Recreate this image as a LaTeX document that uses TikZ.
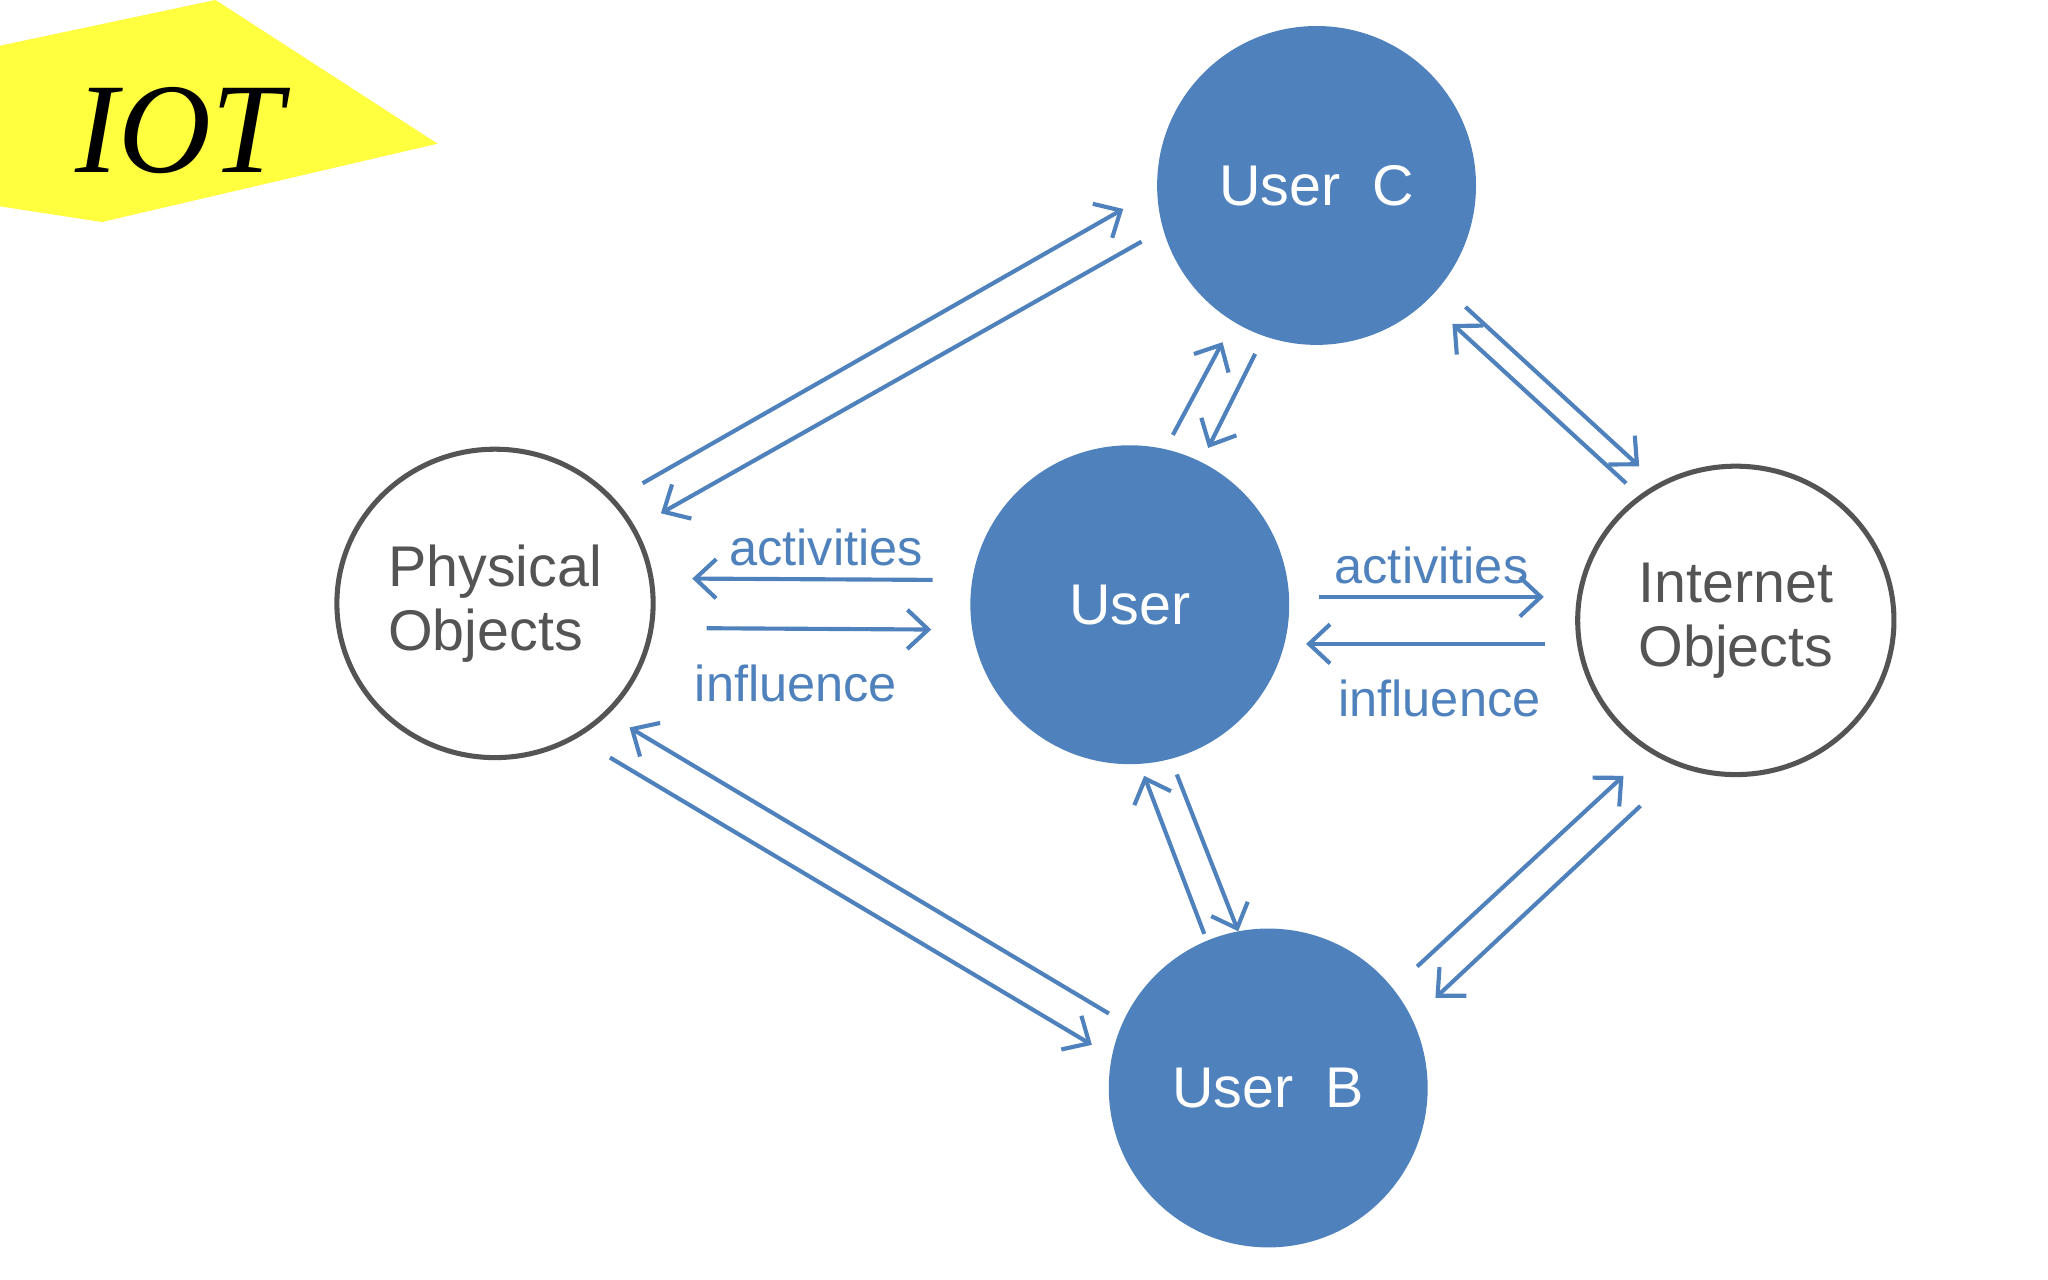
\documentclass[tikz,border=0pt]{standalone}
\usepackage{fontspec}
\setmainfont{Liberation Sans}
\newfontfamily\iotfont{Liberation Serif}
\usetikzlibrary{positioning,arrows.meta}
\definecolor{iotblue}{rgb}{0.310,0.506,0.741}
\definecolor{iotgray}{rgb}{0.33,0.33,0.33}
\definecolor{iotyellow}{rgb}{1,1,0.25}
\tikzset{
  user/.style={circle,fill=iotblue,minimum size=2.44cm,inner sep=0pt,
    text=white,font=\fontsize{12.5}{14}\selectfont},
  thing/.style={ellipse,draw=iotgray,line width=1.1pt,minimum width=2.42cm,
    minimum height=2.36cm,inner sep=0pt,text=iotgray,align=left,
    font=\fontsize{12.5}{14}\selectfont},
  link/.style={-{Straight Barb[length=1.6mm,width=3mm]},iotblue,line width=0.9pt},
  lbl/.style={text=iotblue,font=\fontsize{11}{13}\selectfont}
}
\usetikzlibrary{shapes.geometric}
\begin{document}
\begin{tikzpicture}[x=0.01cm,y=-0.01cm]
  \useasboundingbox (0,0) rectangle (1568,980);
  % banner
  \fill[iotyellow] (0,35) -- (165,0) -- (335,110) -- (78,170) -- (0,158) -- cycle;
  \node (iot) at (137,100) {\iotfont\itshape\fontsize{28}{28}\selectfont IOT};

  % circles
  \node[user] (userc) at (1008,142) {User\ \ C};
  \node[user] (user) at (865,463) {User};
  \node[user] (userb) at (971,833) {User\ \ B};
  \node[thing] (phys) at (379,462) {Physical\\Objects};
  \node[thing] (inet) at (1329,475) {Internet\\Objects};

  % end points
  \coordinate (p1) at (492,370);  \coordinate (c1) at (860,160);
  \coordinate (c2) at (874,185);  \coordinate (p2) at (506,393);
  \coordinate (u1) at (898,333);  \coordinate (c3) at (936,262);
  \coordinate (c4) at (961,271);  \coordinate (u2) at (925,343);
  \coordinate (c5) at (1122,235); \coordinate (i1) at (1255,357);
  \coordinate (i2) at (1245,370); \coordinate (c6) at (1112,248);
  \coordinate (u3) at (714,444);  \coordinate (p3) at (530,443);
  \coordinate (p4) at (541,481);  \coordinate (u4) at (713,482);
  \coordinate (u5) at (1010,457); \coordinate (i3) at (1182,457);
  \coordinate (i4) at (1183,493); \coordinate (u6) at (1000,493);
  \coordinate (b1) at (922,715);  \coordinate (u7) at (876,594);
  \coordinate (u8) at (901,593);  \coordinate (b2) at (948,713);
  \coordinate (p5) at (467,580);  \coordinate (b3) at (836,800);
  \coordinate (b4) at (849,776);  \coordinate (p6) at (482,557);
  \coordinate (b5) at (1085,740); \coordinate (i5) at (1243,594);
  \coordinate (i6) at (1256,617); \coordinate (b6) at (1099,764);

  % connectors
  \draw[link] (p1) -- (c1);
  \draw[link] (c2) -- (p2);
  \draw[link] (u1) -- (c3);
  \draw[link] (c4) -- (u2);
  \draw[link] (c5) -- (i1);
  \draw[link] (i2) -- (c6);
  \draw[link] (u3) -- node[lbl,above=-1pt,xshift=3pt] {activities} (p3);
  \draw[link] (p4) -- node[lbl,below=4pt,xshift=-5pt] {influence} (u4);
  \draw[link] (u5) -- node[lbl,above=-1pt] {activities} (i3);
  \draw[link] (i4) -- node[lbl,below=4pt,xshift=3pt] {influence} (u6);
  \draw[link] (b1) -- (u7);
  \draw[link] (u8) -- (b2);
  \draw[link] (p5) -- (b3);
  \draw[link] (b4) -- (p6);
  \draw[link] (b5) -- (i5);
  \draw[link] (i6) -- (b6);
\end{tikzpicture}
\end{document}
